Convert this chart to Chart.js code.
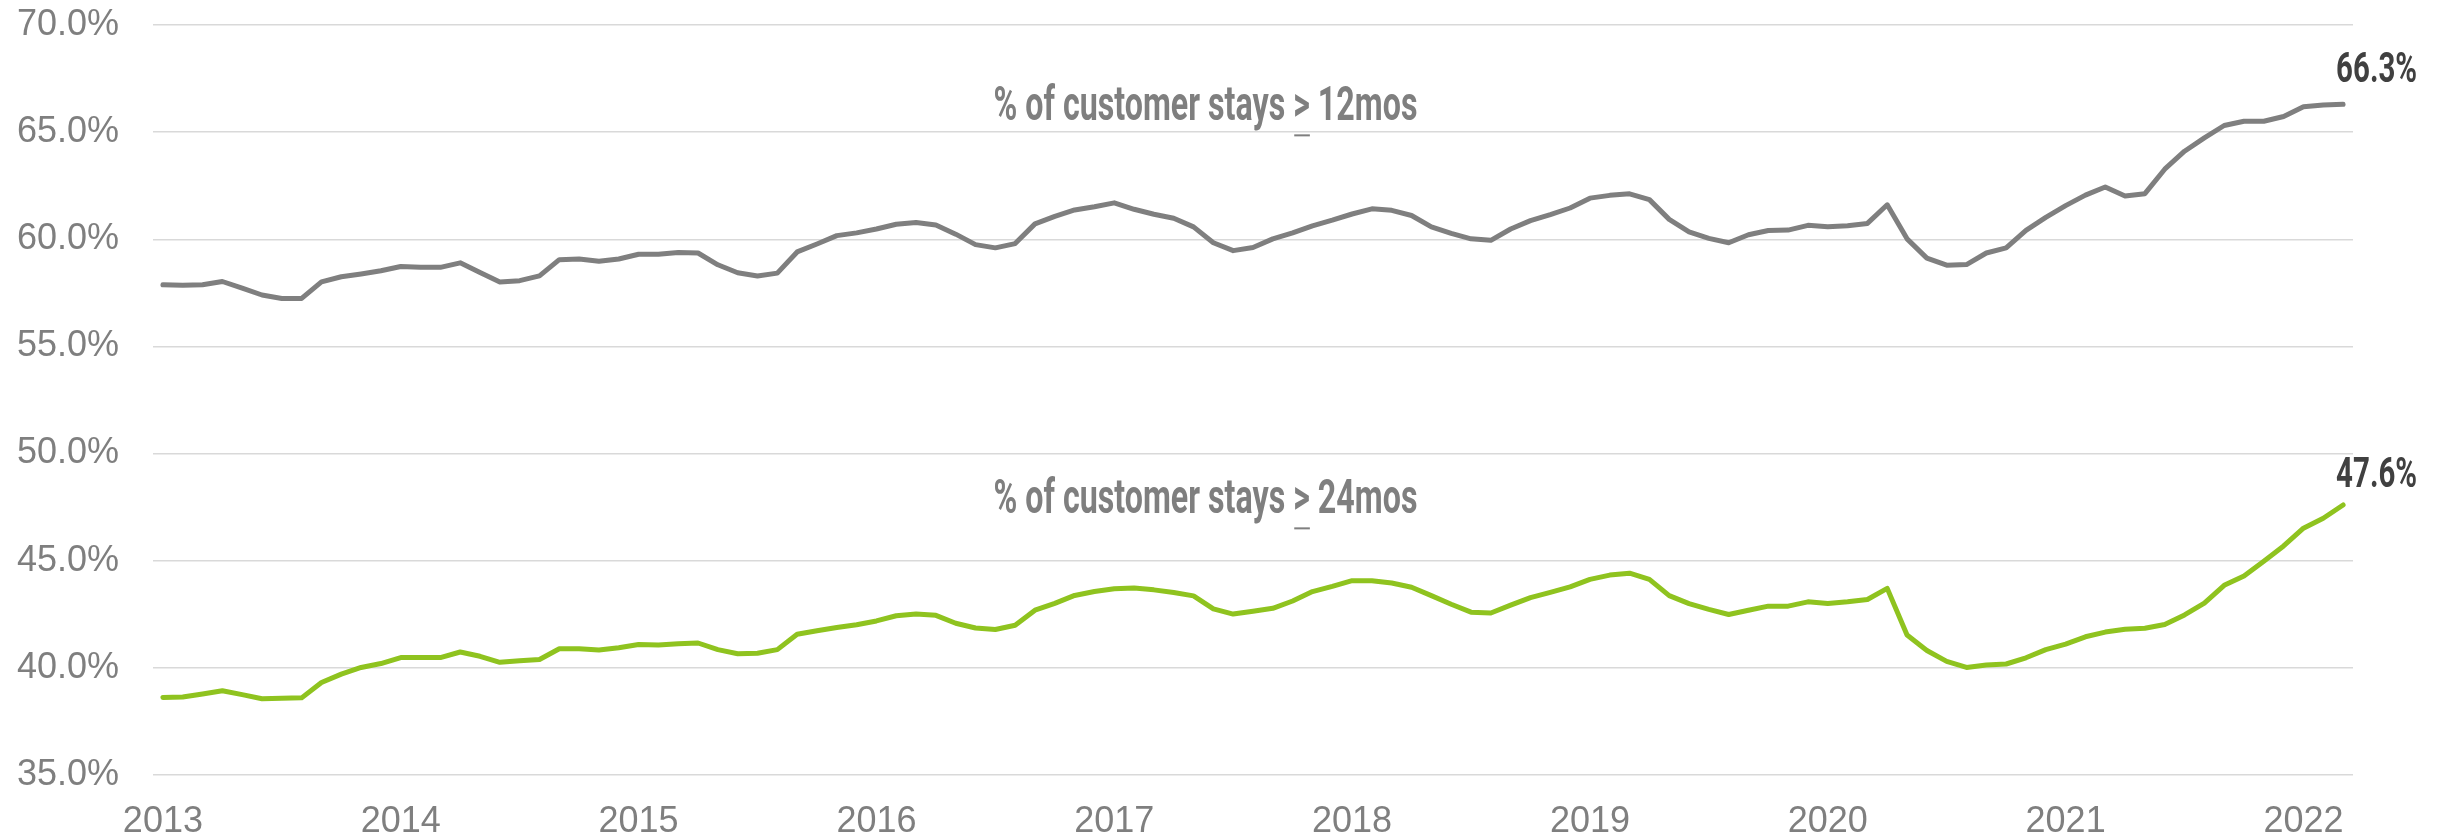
<!DOCTYPE html>
<html>
<head>
<meta charset="utf-8">
<title>Customer stays</title>
<script src="https://cdn.jsdelivr.net/npm/chart.js@4.4.1/dist/chart.umd.min.js"></script>
<style>
    body { margin: 0; background: #ffffff; }
    .contenedor { width: 2441px; height: 838px; position: relative; }
</style>
</head>
<body>
<div class="contenedor"><canvas id="grafica"></canvas></div>
<script>
// Años del eje X (una etiqueta cada enero)
const anios = ['2013', '2014', '2015', '2016', '2017', '2018', '2019', '2020', '2021', '2022'];
const mesesNombre = ['Jan', 'Feb', 'Mar', 'Apr', 'May', 'Jun', 'Jul', 'Aug', 'Sep', 'Oct', 'Nov', 'Dec'];

// Nombres de las series
const nombres = ['% of customer stays > 12mos', '% of customer stays > 24mos'];

// % de estancias >= 12 meses (mensual, ene 2013 - mar 2022)
const estancias12 = [
    57.88, 57.85, 57.88, 58.03, 57.72, 57.40, 57.24, 57.24, 58.01, 58.25, 58.38, 58.53,
    58.73, 58.69, 58.69, 58.90, 58.45, 58.01, 58.07, 58.29, 59.05, 59.08, 58.97, 59.08,
    59.30, 59.30, 59.38, 59.36, 58.81, 58.44, 58.29, 58.42, 59.41, 59.78, 60.17, 60.30,
    60.48, 60.70, 60.78, 60.67, 60.24, 59.75, 59.60, 59.80, 60.72, 61.07, 61.37, 61.52,
    61.70, 61.40, 61.17, 60.98, 60.58, 59.84, 59.47, 59.62, 60.02, 60.30, 60.63, 60.89,
    61.18, 61.42, 61.35, 61.11, 60.58, 60.28, 60.02, 59.95, 60.48, 60.87, 61.15, 61.46,
    61.92, 62.05, 62.12, 61.85, 60.93, 60.35, 60.04, 59.84, 60.21, 60.41, 60.43, 60.65,
    60.58, 60.63, 60.74, 61.61, 60.02, 59.12, 58.79, 58.82, 59.36, 59.60, 60.42, 61.02,
    61.57, 62.06, 62.44, 62.02, 62.13, 63.27, 64.11, 64.73, 65.31, 65.51, 65.51, 65.73,
    66.18, 66.27, 66.30
];

// % de estancias >= 24 meses
const estancias24 = [
    38.62, 38.64, 38.78, 38.93, 38.75, 38.56, 38.58, 38.60, 39.32, 39.71, 40.02, 40.20,
    40.48, 40.48, 40.48, 40.74, 40.54, 40.26, 40.33, 40.39, 40.89, 40.89, 40.83, 40.94,
    41.09, 41.07, 41.13, 41.16, 40.85, 40.66, 40.68, 40.85, 41.57, 41.73, 41.88, 42.01,
    42.19, 42.43, 42.51, 42.45, 42.08, 41.86, 41.79, 41.99, 42.69, 43.01, 43.38, 43.56,
    43.69, 43.73, 43.64, 43.52, 43.36, 42.75, 42.51, 42.64, 42.78, 43.12, 43.56, 43.80,
    44.07, 44.07, 43.96, 43.76, 43.37, 42.97, 42.60, 42.56, 42.93, 43.28, 43.52, 43.78,
    44.13, 44.33, 44.42, 44.13, 43.37, 43.00, 42.73, 42.49, 42.69, 42.88, 42.88, 43.08,
    43.00, 43.08, 43.19, 43.71, 41.53, 40.81, 40.30, 40.02, 40.13, 40.18, 40.47, 40.85,
    41.11, 41.45, 41.67, 41.80, 41.85, 42.02, 42.47, 43.02, 43.85, 44.29, 44.98, 45.69,
    46.52, 46.98, 47.60
];

// Etiquetas mensuales para el eje de categorías
var meses = [];
for (var i = 0; i < estancias12.length; i++) {
    meses.push(mesesNombre[i % 12] + ' ' + anios[Math.floor(i / 12)]);
}

const colorGris = '#7f7f7f';
const colorVerde = '#8fc31f';

// Dibuja texto "condensado" escalando horizontalmente
function textoCondensado(ctx, texto, x, y, escala) {
    ctx.save();
    ctx.translate(x, y);
    ctx.scale(escala, 1);
    ctx.fillText(texto, 0, 0);
    ctx.restore();
}

// Plugin para los nombres de series y el último valor
const anotaciones = {
    id: 'anotaciones',
    afterDatasetsDraw(chart) {
        const ctx = chart.ctx;
        const ejeX = chart.scales.x;
        const ejeY = chart.scales.y;
        ctx.save();
        ctx.textAlign = 'left';
        ctx.textBaseline = 'alphabetic';

        // nombres de series (el ">" va subrayado)
        const posNombre = [65.55, 47.21];
        ctx.font = 'bold 49px Roboto';
        nombres.forEach(function (nombre, k) {
            var partes = nombre.split('>');
            var anchoTotal = ctx.measureText(nombre).width;
            var escala = 424 / anchoTotal;
            var cx = ejeX.getPixelForValue(52.6);
            var x = cx - anchoTotal * escala / 2;
            var y = ejeY.getPixelForValue(posNombre[k]);
            ctx.fillStyle = colorGris;
            textoCondensado(ctx, partes[0], x, y, escala);
            var x2 = x + ctx.measureText(partes[0]).width * escala;
            var anchoMayor = ctx.measureText('>').width * escala;
            textoCondensado(ctx, '>', x2, y, escala);
            ctx.fillRect(x2 + 1, y + 14, anchoMayor - 1, 2);
            textoCondensado(ctx, partes[1], x2 + anchoMayor, y, escala);
        });

        // último valor de cada serie
        ctx.font = 'bold 42px Roboto';
        ctx.fillStyle = '#404040';
        const desplaza = [-22, -18];
        chart.data.datasets.forEach(function (ds, k) {
            var ultimo = ds.data.length - 1;
            var texto = ds.data[ultimo].toFixed(1) + '%';
            var escala = 81 / ctx.measureText(texto).width;
            var px = ejeX.getPixelForValue(ultimo) - 7;
            var py = ejeY.getPixelForValue(ds.data[ultimo]) + desplaza[k];
            textoCondensado(ctx, texto, px, py, escala);
        });
        ctx.restore();
    }
};

function crearGrafica() {
    var datos = {
        labels: meses,
        datasets: [
            {
                label: nombres[0],
                data: estancias12,
                borderColor: colorGris,
                borderWidth: 5,
                pointRadius: 0,
                tension: 0,
                borderCapStyle: 'round',
                borderJoinStyle: 'round',
                fill: false
            },
            {
                label: nombres[1],
                data: estancias24,
                borderColor: colorVerde,
                borderWidth: 5,
                pointRadius: 0,
                tension: 0,
                borderCapStyle: 'round',
                borderJoinStyle: 'round',
                fill: false
            }
        ]
    };

    var opciones = {
        responsive: true,
        maintainAspectRatio: false,
        animation: false,
        layout: { padding: { top: 25, right: 88, left: 0, bottom: 0 } },
        plugins: {
            legend: { display: false },
            tooltip: { enabled: false }
        },
        scales: {
            x: {
                type: 'category',
                offset: true,
                grid: { display: false, drawTicks: false },
                border: { display: false },
                ticks: {
                    autoSkip: false,
                    maxRotation: 0,
                    padding: 25,
                    color: '#7f7f7f',
                    font: { family: 'Liberation Sans', size: 36 },
                    callback: function (valor, indice) {
                        return indice % 12 === 0 ? anios[indice / 12] : null;
                    }
                },
                afterFit: function (eje) {
                    eje.height = 63;
                    eje.paddingLeft = 0;
                    eje.paddingRight = 0;
                }
            },
            y: {
                min: 35,
                max: 70,
                grid: { color: '#d9d9d9', lineWidth: 1.5, drawTicks: false },
                border: { display: false },
                ticks: {
                    stepSize: 5,
                    padding: 34,
                    color: '#7f7f7f',
                    font: { family: 'Liberation Sans', size: 36 },
                    callback: function (valor) { return valor.toFixed(1) + '%'; }
                },
                afterFit: function (eje) {
                    eje.width = 153;
                    eje.paddingTop = 0;
                    eje.paddingBottom = 0;
                }
            }
        }
    };

    new Chart(document.getElementById('grafica'), {
        type: 'line',
        data: datos,
        options: opciones,
        plugins: [anotaciones]
    });
}

window.addEventListener('load', function () {
    crearGrafica();
});
</script>
</body>
</html>
